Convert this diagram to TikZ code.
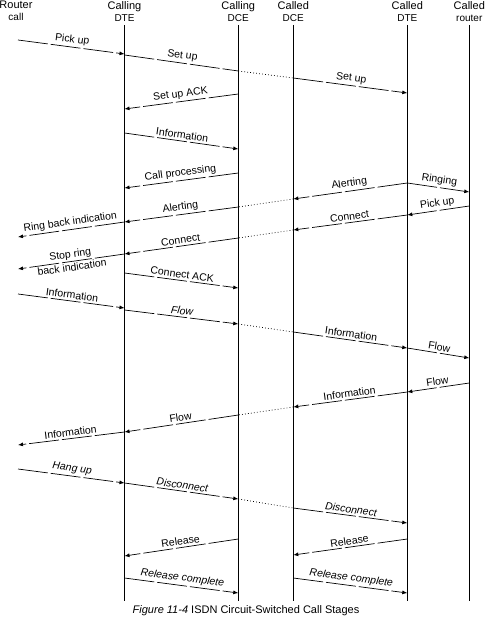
\documentclass[tikz,border=0pt]{standalone}
\usepackage{fontspec}
\setmainfont{Liberation Sans}
\usetikzlibrary{arrows.meta}
\begin{document}
\begin{tikzpicture}[x=1pt,y=-1pt,
  hdr/.style={align=center, inner sep=0pt, anchor=north},
  life/.style={line width=0.8pt},
  msgline/.style={line width=0.7pt, dash pattern=on 30pt off 3pt},
  msg/.style={msgline, -{Latex[length=5pt,width=4pt]}},
  net/.style={line width=0.7pt, dash pattern=on 0.8pt off 2.2pt},
  lbl/.style={font=\fontsize{10.5}{12}\selectfont, sloped, above, inner sep=2pt, midway},
  lblb/.style={font=\fontsize{10.5}{12}\selectfont, sloped, below, inner sep=1.5pt, midway}
]
\useasboundingbox (0,0) rectangle (485,620);

% headers
\node[hdr] (h0) at (16,1) {\fontsize{11}{12.5}\selectfont Router\\\fontsize{10}{12.5}\selectfont call};
\node[hdr] (h1) at (124.5,1) {\fontsize{11}{12.5}\selectfont Calling\\\fontsize{10}{12.5}\selectfont DTE};
\node[hdr] (h2) at (238.3,1) {\fontsize{11}{12.5}\selectfont Calling\\\fontsize{10}{12.5}\selectfont DCE};
\node[hdr] (h3) at (293.3,1) {\fontsize{11}{12.5}\selectfont Called\\\fontsize{10}{12.5}\selectfont DCE};
\node[hdr] (h4) at (407.3,1) {\fontsize{11}{12.5}\selectfont Called\\\fontsize{10}{12.5}\selectfont DTE};
\node[hdr] (h5) at (469.3,1) {\fontsize{11}{12.5}\selectfont Called\\\fontsize{10}{12.5}\selectfont router};
\coordinate (c0) at (18,0);

% lifelines
\foreach \h in {h1,h2,h3,h4,h5}
  \draw[life] (\h |- 0,25) -- (\h |- 0,601);

% call setup
\draw[msg] (c0 |- 0,40) -- node[lbl]{Pick up} (h1 |- 0,54);
\draw[msgline] (h1 |- 0,55) -- node[lbl]{Set up} (h2 |- 0,71);
\draw[net] (h2 |- 0,71) -- (h3 |- 0,78);
\draw[msg] (h3 |- 0,78) -- node[lbl]{Set up} (h4 |- 0,93);
\draw[msg] (h2 |- 0,94) -- node[lbl]{Set up ACK} (h1 |- 0,109);
\draw[msg] (h1 |- 0,133) -- node[lbl]{Information} (h2 |- 0,149);
\draw[msg] (h2 |- 0,173) -- node[lbl]{Call processing} (h1 |- 0,188);
\draw[msg] (h4 |- 0,183) -- node[lbl]{Alerting} (h3 |- 0,199);
\draw[msg] (h4 |- 0,183) -- node[lbl]{Ringing} (h5 |- 0,192);
\draw[net] (h3 |- 0,199) -- (h2 |- 0,207);
\draw[msg] (h2 |- 0,207) -- node[lbl]{Alerting} (h1 |- 0,222);
\draw[msg] (h1 |- 0,222) -- node[lbl]{Ring back indication} (c0 |- 0,237);
\draw[msg] (h5 |- 0,206) -- node[lbl]{Pick up} (h4 |- 0,215);
\draw[msg] (h4 |- 0,215) -- node[lbl]{Connect} (h3 |- 0,230);
\draw[net] (h3 |- 0,230) -- (h2 |- 0,238);
\draw[msg] (h2 |- 0,238) -- node[lbl]{Connect} (h1 |- 0,254);
\draw[msg] (h1 |- 0,254) -- node[lbl, inner sep=1.5pt]{Stop ring} node[lblb]{back indication} (c0 |- 0,269);
\draw[msg] (h1 |- 0,273) -- node[lbl]{Connect ACK} (h2 |- 0,288);

% data flow
\draw[msg] (c0 |- 0,294) -- node[lbl]{Information} (h1 |- 0,308);
\draw[msg] (h1 |- 0,310) -- node[lbl]{\itshape Flow} (h2 |- 0,324);
\draw[net] (h2 |- 0,324) -- (h3 |- 0,332);
\draw[msg] (h3 |- 0,332) -- node[lbl]{Information} (h4 |- 0,348);
\draw[msg] (h4 |- 0,348) -- node[lbl]{Flow} (h5 |- 0,358);
\draw[msg] (h5 |- 0,383) -- node[lbl]{Flow} (h4 |- 0,392);
\draw[msg] (h4 |- 0,392) -- node[lbl]{Information} (h3 |- 0,407);
\draw[net] (h3 |- 0,407) -- (h2 |- 0,415);
\draw[msg] (h2 |- 0,415) -- node[lbl]{Flow} (h1 |- 0,432);
\draw[msg] (h1 |- 0,432) -- node[lbl]{Information} (c0 |- 0,445);

% clearing
\draw[msg] (c0 |- 0,469) -- node[lbl]{\itshape Hang up} (h1 |- 0,483);
\draw[msg] (h1 |- 0,483) -- node[lbl]{\itshape Disconnect} (h2 |- 0,499);
\draw[net] (h2 |- 0,499) -- (h3 |- 0,508);
\draw[msg] (h3 |- 0,508) -- node[lbl]{\itshape Disconnect} (h4 |- 0,523);
\draw[msg] (h4 |- 0,539) -- node[lbl]{Release} (h3 |- 0,555);
\draw[msg] (h2 |- 0,539) -- node[lbl]{Release} (h1 |- 0,556);
\draw[msg] (h1 |- 0,578) -- node[lbl]{\itshape Release complete} (h2 |- 0,593);
\draw[msg] (h3 |- 0,578) -- node[lbl]{\itshape Release complete} (h4 |- 0,593);

% caption
\node[font=\fontsize{11}{13}\selectfont, inner sep=0pt] (cap) at (246,611) {\textit{Figure 11-4} ISDN Circuit-Switched Call Stages};
\end{tikzpicture}
\end{document}
